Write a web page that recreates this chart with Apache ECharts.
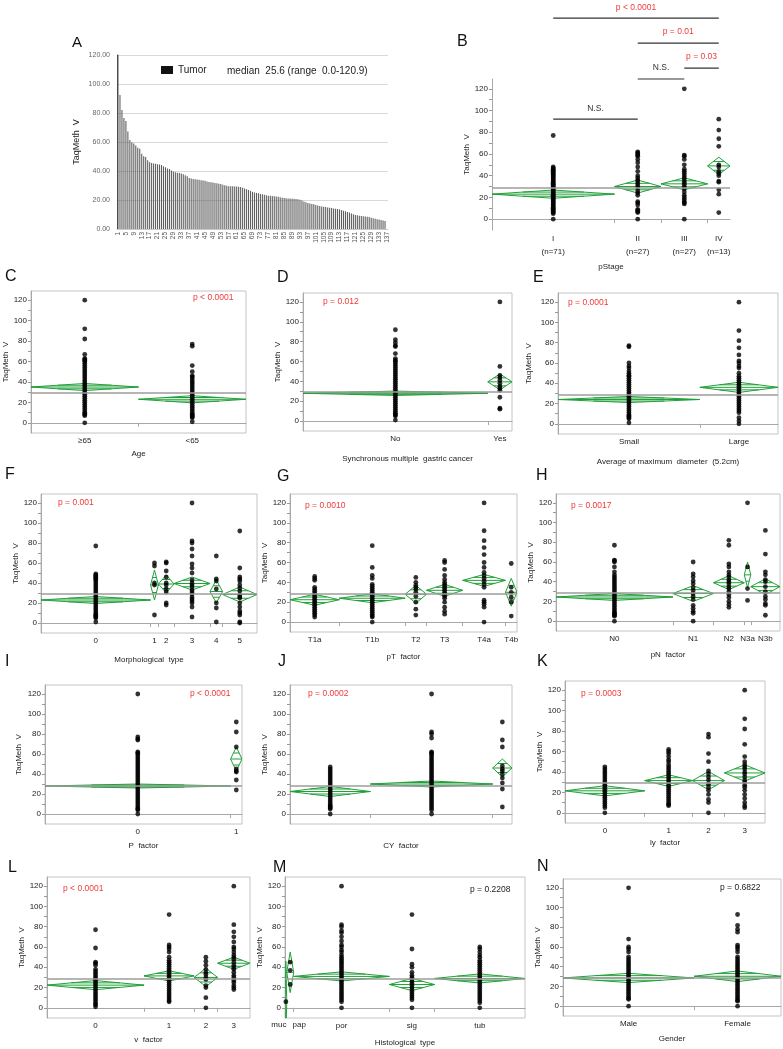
<!DOCTYPE html>
<html><head><meta charset="utf-8">
<script src="https://cdn.jsdelivr.net/npm/echarts@6/dist/echarts.min.js"></script>
<style>html,body{margin:0;padding:0;background:#fff}#c{width:783px;height:1049px}</style>
</head><body><div id="c"></div>
<script>
// ---------- Panel A data ----------
const A_values = [
 120.9, 92.5, 82.0, 76.5, 74.5, 67.2, 61.3, 59.8, 59.0, 57.6,
 56.0, 55.4, 51.9, 50.1, 49.6, 47.4, 46.0, 45.5, 45.2, 45.0,
 44.7, 44.5, 44.1, 43.2, 42.6, 41.8, 41.3, 40.4, 39.6, 39.1,
 38.8, 38.6, 38.2, 37.7, 37.0, 36.4, 35.2, 34.8, 34.5, 34.3,
 34.1, 33.9, 33.6, 33.4, 33.2, 32.8, 32.5, 32.2, 32.0, 31.8,
 31.5, 31.2, 31.0, 30.6, 30.2, 29.8, 29.5, 29.4, 29.4, 29.3,
 29.3, 29.2, 28.9, 28.5, 28.0, 27.4, 26.9, 26.3, 25.6, 25.2,
 24.9, 24.6, 24.2, 23.9, 23.6, 23.2, 23.0, 22.9, 22.8, 22.6,
 22.4, 22.2, 21.9, 21.6, 21.4, 21.2, 21.1, 21.0, 20.9, 20.8,
 20.7, 20.6, 20.2, 19.6, 18.9, 18.4, 18.0, 17.6, 17.3, 17.0,
 16.5, 16.2, 15.9, 15.5, 15.3, 15.1, 14.9, 14.7, 14.5, 14.2,
 14.0, 13.8, 13.5, 13.0, 12.6, 12.2, 11.8, 11.3, 10.7, 10.1,
 9.6, 9.4, 9.2, 9.0, 8.8, 8.6, 8.4, 8.2, 7.8, 7.4,
 7.0, 6.8, 6.5, 6.2, 5.9, 5.5, 0.0];
const A_rank = A_values.map((v, i) => String(i + 1));
const A_ticks = [0, 20, 40, 60, 80, 100, 120];
const A_series = 'Tumor';
const A_note = 'median  25.6 (range  0.0-120.9)';

const Y_ticks = [0, 20, 40, 60, 80, 100, 120];

// ---------- Panel B ----------
const B_names = ['I\n(n=71)', 'II\n(n=27)', 'III\n(n=27)', 'IV\n(n=13)'];
const B_n = [71, 27, 27, 13];
const B_mean = [23, 30, 32.5, 49];
const B_ci = [3.8, 6, 5.5, 8];
const B_grand = 29;
const B_dots = [
 [77,48,47,46,45,44,43,42,41,40,39,38,37,36,35,34,33,32,31,30,29,28,27,26,25,24,23,22,21,20,19,18,17,16,15,14,13,12,11,10,9,8,7,6,5,0],
 [62,61,60,59,58,55,52,48,44,40,38,36,35,33,31,29,26,24,22,16,15,13,9,8,7,6,0],
 [120,59,58,55,50,46,44,42,40,38,36,34,32,30,28,25,22,20,18,16,15,14,0],
 [92,82,74,67,50,48,44,42,40,35,34,27,23,6]];
const B_pairs = [[0,1],[1,2],[2,3],[1,3],[0,3]];
const B_pText = ['N.S.', 'N.S.', 'p = 0.03', 'p = 0.01', 'p < 0.0001'];

// ---------- Panel C ----------
const C_names = ['\u226565', '<65'];
const C_n = [69, 69];
const C_mean = [35, 23];
const C_ci = [3.5, 3.5];
const C_grand = 29;
const C_p = 'p < 0.0001';
const C_dots = [
 [120,92,82,67,63,62,61,60,58,56,54,52,50,48,46,44,42,40,38,36,34,32,30,28,26,24,22,20,18,16,14,12,10,9,8,7,0],
 [77,75,56,50,46,45,43,41,39,37,35,33,31,29,27,25,23,21,19,17,15,13,11,9,8,7,6,5,1]];

// ---------- Panel D ----------
const D_names = ['No', 'Yes'];
const D_n = [122, 16];
const D_mean = [28, 39.5];
const D_ci = [2.2, 8];
const D_grand = 29.5;
const D_p = 'p = 0.012';
const D_dots = [
 [92,82,79,76,75,68,63,61,60,58,56,54,52,50,48,46,44,42,40,38,36,34,32,30,28,26,24,22,20,18,16,14,12,10,8,7,6,5,1],
 [120,55,46,44,41,38,35,33,31,24,13,12]];

// ---------- Panel E ----------
const E_names = ['Small', 'Large'];
const E_n = [89, 49];
const E_mean = [24, 36];
const E_ci = [3, 5];
const E_grand = 28.5;
const E_p = 'p = 0.0001';
const E_dots = [
 [77,76,60,57,55,52,50,48,47,45,43,41,39,37,35,33,31,29,27,25,23,21,19,17,15,13,11,9,8,7,6,5,1],
 [120,92,82,75,68,62,60,57,55,50,47,45,43,41,39,37,35,33,31,29,27,25,23,21,19,17,15,13,11,6,3,0]];

// ---------- Panel F ----------
const F_names = ['0', '1', '2', '3', '4', '5'];
const F_n = [70, 5, 10, 23, 8, 22];
const F_mean = [23, 38, 39, 39.5, 31.5, 28.5];
const F_ci = [3.5, 15, 9, 6.5, 11.5, 7.5];
const F_grand = 29;
const F_p = 'p = 0.001';
const F_dots = [
 [77,49,48,47,46,45,44,43,41,39,37,35,33,31,29,27,25,23,21,19,17,15,13,11,9,8,7,6,5,1],
 [60,57,40,38,8],
 [61,60,52,46,40,38,34,31,20,18],
 [120,82,80,74,67,59,55,50,43,40,38,36,33,31,29,26,24,22,20,16,6],
 [67,44,42,34,20,15,1],
 [92,55,46,44,42,38,35,32,28,26,25,20,16,12,10,8,1,0]];

// ---------- Panel G ----------
const G_names = ['T1a', 'T1b', 'T2', 'T3', 'T4a', 'T4b'];
const G_n = [30, 40, 13, 22, 26, 7];
const G_mean = [22.5, 24, 28, 32, 42, 30];
const G_ci = [5.5, 4.5, 9, 6, 6, 14];
const G_grand = 29;
const G_p = 'p = 0.0010';
const G_dots = [
 [46,44,42,35,33,31,29,27,25,23,21,19,17,15,13,11,9,7,5],
 [77,55,47,44,38,36,34,32,30,28,26,24,22,20,18,16,14,12,10,8,6,5,0],
 [45,40,37,35,33,30,26,20,13,7],
 [62,60,53,47,43,40,38,36,34,32,30,28,26,24,20,15,11,8],
 [120,92,82,75,68,60,55,50,47,44,41,38,35,22,20,18,15,0],
 [59,35,30,25,20,6]];

// ---------- Panel H ----------
const H_names = ['N0', 'N1', 'N2', 'N3a', 'N3b'];
const H_n = [72, 25, 19, 4, 18];
const H_mean = [24.5, 28, 39, 47, 35];
const H_ci = [3.5, 8, 7, 13, 8];
const H_grand = 28.5;
const H_p = 'p = 0.0017';
const H_dots = [
 [77,62,61,60,55,50,47,45,43,41,39,37,35,33,31,29,27,25,23,21,19,17,15,13,11,9,8,7,6,5,0],
 [60,48,45,41,38,34,31,28,25,22,16,13,10,8,0],
 [82,77,58,55,50,47,45,42,40,38,35,33,30,27,24,20,17,14],
 [120,55,33,21],
 [92,68,50,47,42,40,35,30,25,22,18,16,6]];

// ---------- Panel I ----------
const I_names = ['0', '1'];
const I_n = [130, 8];
const I_mean = [28, 55];
const I_ci = [2, 12];
const I_grand = 28.5;
const I_p = 'p < 0.0001';
const I_dots = [
 [120,77,75,74,62,61,60,58,56,54,52,50,48,46,44,42,40,38,36,34,32,30,28,26,24,22,20,18,16,14,12,10,8,6,5,4,0],
 [92,82,67,45,43,42,34,24]];

// ---------- Panel J ----------
const J_names = ['', '', ''];
const J_n = [50, 76, 12];
const J_mean = [22.5, 30, 46];
const J_ci = [5, 3, 9];
const J_grand = 28.5;
const J_p = 'p = 0.0002';
const J_dots = [
 [47,45,43,41,39,37,35,33,31,29,27,25,23,21,19,17,15,13,11,9,8,7,6,5,0],
 [120,82,80,76,62,61,60,58,56,54,52,50,48,46,44,42,40,38,36,34,32,30,28,26,24,22,20,18,16,14,12,10,8,6,4,0],
 [92,74,67,48,45,43,40,36,31,25,7]];

// ---------- Panel K ----------
const K_names = ['0', '1', '2', '3'];
const K_n = [55, 33, 22, 28];
const K_mean = [21.5, 31.5, 31.5, 39];
const K_ci = [5, 5.7, 9, 8];
const K_grand = 29;
const K_p = 'p = 0.0003';
const K_dots = [
 [45,43,41,39,37,35,33,31,29,27,25,23,21,19,17,15,13,11,9,7,5,0],
 [62,60,58,55,52,50,47,45,43,41,39,37,35,33,31,29,27,25,23,21,19,17,15,13,11,9,8,7],
 [77,74,58,50,41,38,35,32,28,25,22,18,13,10,0],
 [120,92,82,67,55,50,47,45,43,40,38,35,32,30,27,25,22,18,14,10,7,5]];

// ---------- Panel L ----------
const L_names = ['0', '1', '2', '3'];
const L_n = [66, 34, 16, 22];
const L_mean = [22.4, 31.5, 30, 44];
const L_ci = [4.5, 5, 9, 6];
const L_grand = 28.5;
const L_p = 'p < 0.0001';
const L_dots = [
 [77,59,45,44,42,38,36,34,32,30,28,26,24,22,20,18,16,14,12,10,8,6,4,3,1],
 [92,62,60,58,55,50,47,45,43,41,39,37,35,33,31,29,27,25,23,21,19,17,15,13,11,9,7,6],
 [50,46,42,38,35,33,30,28,22,20,10,0],
 [120,82,75,70,65,60,58,55,52,50,48,45,42,40,38,35,32,30,27,25,22,20,18]];

// ---------- Panel M ----------
const M_names = ['muc', 'pap', 'por', 'sig', 'tub'];
const M_n = [1, 4, 55, 26, 52];
const M_mean = [6, 35, 31, 23, 29];
const M_ci = [40, 20, 4.5, 6, 4.5];
const M_grand = 29;
const M_p = 'p = 0.2208';
const M_dots = [
 [6],
 [45,37,23],
 [120,82,80,76,74,70,66,62,60,57,55,52,50,48,46,44,42,40,38,36,34,32,30,28,26,24,22,20,18,16,14,12,10,8,6,0],
 [92,58,43,40,35,32,30,28,26,24,22,20,18,16,14,12,10,8,0],
 [60,58,55,52,50,47,45,43,41,39,37,35,33,31,29,27,25,23,21,19,17,15,13,11,9,7,5,0]];

// ---------- Panel N ----------
const N_names = ['Male', 'Female'];
const N_n = [83, 55];
const N_mean = [28.6, 30.3];
const N_ci = [4.7, 5.4];
const N_grand = 29;
const N_p = 'p = 0.6822';
const N_dots = [
 [120,68,60,58,55,50,48,46,44,42,40,38,36,34,32,30,28,26,24,22,20,18,16,14,12,10,8,7,0],
 [93,82,78,75,62,60,58,55,50,48,46,44,42,40,38,36,34,32,30,28,26,24,22,20,18,16,14,12,10,8,6,5,0]];

// ---------- Layout (positions only) ----------
const FONT = '"Liberation Sans", Arial, Helvetica, sans-serif';
const RED = '#ee3b3b';
const GREEN = '#22a03a';
const LAYOUT = {
 B:{box:[492,79,238,151], boxed:false, yGap:20, xGap:33, lp:[457,42], lh:13, sigY:[92,129,139,162,185]},
 C:{box:[31,291,215,142], boxed:true, yGap:18, xGap:17, lp:[5,277], pp:[193,298]},
 D:{box:[303,293,209,138], boxed:true, yGap:16, xGap:24, lp:[277,278], pp:[323,302]},
 E:{box:[558,293,220,141], boxed:true, yGap:25, xGap:24, lp:[533,278], pp:[568,303]},
 F:{box:[41,494,216,139], boxed:true, yGap:19, xGap:23, lp:[5,475], pp:[58,503]},
 G:{box:[290,494,227,138], boxed:true, yGap:16, xGap:21, lp:[277,477], pp:[305,506]},
 H:{box:[556,494,224,137], boxed:true, yGap:15, xGap:20, lp:[536,476], pp:[571,506]},
 I:{box:[45,685,197,139], boxed:true, yGap:22, xGap:18, lp:[5,662], pp:[190,694]},
 J:{box:[290,685,222,139], boxed:true, yGap:14, xGap:18, lp:[278,662], pp:[308,694]},
 K:{box:[565,681,200,142], boxed:true, yGap:21, xGap:16, lp:[537,662], pp:[581,694]},
 L:{box:[47,877,203,141], boxed:true, yGap:21, xGap:18, lp:[8,868], pp:[63,889]},
 M:{box:[285,877,240,141], boxed:true, yGap:15, xGap:21, lp:[273,868], pp:[470,890], pColor:'#222', shift:[-7, 9, null, null, null]},
 N:{box:[563,879,218,137], boxed:true, yGap:19, xGap:19, lp:[537,867], pp:[720,888], pColor:'#222'}
};

const PANELS = [
 {k:'B', names:B_names, n:B_n, mean:B_mean, ci:B_ci, dots:B_dots, grand:B_grand, title:'pStage', p:null},
 {k:'C', names:C_names, n:C_n, mean:C_mean, ci:C_ci, dots:C_dots, grand:C_grand, title:'Age', p:C_p},
 {k:'D', names:D_names, n:D_n, mean:D_mean, ci:D_ci, dots:D_dots, grand:D_grand, title:'Synchronous multiple  gastric cancer', p:D_p},
 {k:'E', names:E_names, n:E_n, mean:E_mean, ci:E_ci, dots:E_dots, grand:E_grand, title:'Average of maximum  diameter  (5.2cm)', p:E_p},
 {k:'F', names:F_names, n:F_n, mean:F_mean, ci:F_ci, dots:F_dots, grand:F_grand, title:'Morphological  type', p:F_p},
 {k:'G', names:G_names, n:G_n, mean:G_mean, ci:G_ci, dots:G_dots, grand:G_grand, title:'pT  factor', p:G_p},
 {k:'H', names:H_names, n:H_n, mean:H_mean, ci:H_ci, dots:H_dots, grand:H_grand, title:'pN  factor', p:H_p},
 {k:'I', names:I_names, n:I_n, mean:I_mean, ci:I_ci, dots:I_dots, grand:I_grand, title:'P  factor', p:I_p},
 {k:'J', names:J_names, n:J_n, mean:J_mean, ci:J_ci, dots:J_dots, grand:J_grand, title:'CY  factor', p:J_p},
 {k:'K', names:K_names, n:K_n, mean:K_mean, ci:K_ci, dots:K_dots, grand:K_grand, title:'ly  factor', p:K_p},
 {k:'L', names:L_names, n:L_n, mean:L_mean, ci:L_ci, dots:L_dots, grand:L_grand, title:'v  factor', p:L_p},
 {k:'M', names:M_names, n:M_n, mean:M_mean, ci:M_ci, dots:M_dots, grand:M_grand, title:'Histological  type', p:M_p},
 {k:'N', names:N_names, n:N_n, mean:N_mean, ci:N_ci, dots:N_dots, grand:N_grand, title:'Gender', p:N_p}
];

// ---------- Build ----------
const chart = echarts.init(document.getElementById('c'), null, {renderer:'canvas', width:783, height:1049});
const grids = [], xAxes = [], yAxes = [], series = [], graphics = [];
const lateLabels = [];

// Panel A
grids.push({left:117, top:55, width:271, height:174, show:false});
xAxes.push({gridIndex:0, type:'category', data:A_rank,
  axisLine:{show:true, lineStyle:{color:'#c8c8c8'}}, axisTick:{show:false},
  axisLabel:{interval:3, rotate:90, fontSize:6.5, color:'#555', margin:3, fontFamily:FONT}});
yAxes.push({gridIndex:0, type:'value', min:0, max:120, interval:20,
  axisLine:{show:true, lineStyle:{color:'#333'}}, axisTick:{show:false},
  axisLabel:{customValues:A_ticks, fontSize:7, color:'#666', margin:7, fontFamily:FONT, formatter:v=>Number(v).toFixed(2)},
  splitLine:{show:true, lineStyle:{color:'#d9d9d9'}},
  name:'TaqMeth  V', nameLocation:'middle', nameGap:36, nameTextStyle:{fontSize:9, color:'#222', fontFamily:FONT}});
series.push({type:'bar', name:A_series, xAxisIndex:0, yAxisIndex:0, data:A_values,
  itemStyle:{color:'#5e5e5e'}, barWidth:'55%'});
graphics.push({type:'text', x:72, y:43, style:{text:'A', font:'15px '+FONT, fill:'#111', textVerticalAlign:'middle'}});
graphics.push({type:'text', x:227, y:71, style:{text:A_note, font:'10px '+FONT, fill:'#222', textVerticalAlign:'middle'}});

function diamondRender(params, api){
  const lo = api.value(0), hi = api.value(1), m = api.value(2), h = api.value(3);
  const c = (lo + hi) / 2, k = 0.5;
  const pL = api.coord([lo, m]), pR = api.coord([hi, m]);
  const pT = api.coord([c, m + h]), pB = api.coord([c, m - h]);
  const u1 = api.coord([lo + (c - lo) * k, m + h * k]), u2 = api.coord([hi - (hi - c) * k, m + h * k]);
  const d1 = api.coord([lo + (c - lo) * k, m - h * k]), d2 = api.coord([hi - (hi - c) * k, m - h * k]);
  const st = {stroke:GREEN, lineWidth:1, fill:null};
  return {type:'group', children:[
    {type:'polygon', shape:{points:[pL, pT, pR, pB]}, style:{stroke:GREEN, lineWidth:1, fill:'none'}},
    {type:'line', shape:{x1:pL[0], y1:pL[1], x2:pR[0], y2:pR[1]}, style:st},
    {type:'line', shape:{x1:u1[0], y1:u1[1], x2:u2[0], y2:u2[1]}, style:st},
    {type:'line', shape:{x1:d1[0], y1:d1[1], x2:d2[0], y2:d2[1]}, style:st}
  ]};
}

PANELS.forEach((P, idx) => {
  const gi = idx + 1;
  const Lo = LAYOUT[P.k];
  const total = P.n.reduce((a, b) => a + b, 0);
  const bounds = [0];
  P.n.forEach(v => bounds.push(bounds[bounds.length - 1] + v));
  const centers = P.n.map((v, i) => (bounds[i] + bounds[i + 1]) / 2);
  const [bx, by, bw, bh] = Lo.box;
  grids.push({left:bx, top:by, width:bw, height:bh, show:Lo.boxed, borderColor:'#c4c4c4', borderWidth:1});
  // labels drawn by the axis (those needing a sideways nudge are placed after layout)
  const axisCenters = centers.filter((c, i) => !(Lo.shift && Lo.shift[i] != null));
  centers.forEach((c, i) => { if (Lo.shift && Lo.shift[i] != null) lateLabels.push({gi, x:c, dx:Lo.shift[i], text:P.names[i]}); });
  xAxes.push({gridIndex:gi, type:'value', min:0, max:total,
    axisLine:{show:true, lineStyle:{color:'#a8a8a8'}},
    axisTick:{show:true, customValues:bounds.slice(1, -1), length:4, lineStyle:{color:'#a8a8a8'}},
    axisLabel:{customValues:axisCenters, fontSize:8, color:'#222', margin:Lo.lh ? 2 : 3, fontFamily:FONT,
      lineHeight:Lo.lh || 10, hideOverlap:false,
      formatter:(v) => {
        let b = 0;
        centers.forEach((c, i) => { if (Math.abs(c - v) < Math.abs(centers[b] - v)) b = i; });
        return P.names[b];
      }},
    splitLine:{show:false},
    name:P.title, nameLocation:'middle', nameGap:Lo.xGap,
    nameTextStyle:{fontSize:8, color:'#222', fontFamily:FONT}});
  yAxes.push({gridIndex:gi, type:'value', min:-10, max:129,
    axisLine:{show:true, lineStyle:{color:'#a8a8a8'}},
    axisTick:{show:true, customValues:[0,10,20,30,40,50,60,70,80,90,100,110,120], length:3, lineStyle:{color:'#999'}},
    axisLabel:{customValues:Y_ticks, fontSize:8, color:'#222', margin:4, fontFamily:FONT},
    splitLine:{show:false},
    name:'TaqMeth  V', nameLocation:'middle', nameGap:Lo.yGap,
    nameTextStyle:{fontSize:8, color:'#222', fontFamily:FONT}});
  const pts = [];
  P.dots.forEach((arr, i) => arr.forEach(v => pts.push([centers[i], v])));
  series.push({type:'custom', xAxisIndex:gi, yAxisIndex:gi, clip:true, z:3,
    data:P.mean.map((m, i) => [bounds[i], bounds[i + 1], m, P.ci[i]]),
    encode:{x:[0, 1], y:[2]}, renderItem:diamondRender});
  series.push({type:'scatter', xAxisIndex:gi, yAxisIndex:gi, data:pts, symbolSize:4.8, z:4,
    itemStyle:{color:'#000'}, silent:true,
    markLine:{silent:true, symbol:'none', label:{show:false}, animation:false,
      lineStyle:{color:'#9c9c9c', width:1.5, type:'solid'}, data:[{yAxis:P.grand}]}});
  graphics.push({type:'text', x:Lo.lp[0], y:Lo.lp[1], style:{text:P.k, font:'16px '+FONT, fill:'#111', textVerticalAlign:'middle'}});
  if (P.p) graphics.push({type:'text', x:Lo.pp[0], y:Lo.pp[1],
    style:{text:P.p, font:'8.5px '+FONT, fill:Lo.pColor || RED, textVerticalAlign:'middle'}});
  if (P.k === 'B') {
    const sig = B_pairs.map((pr, i) => [centers[pr[0]], centers[pr[1]], Lo.sigY[i], i]);
    series.push({type:'custom', xAxisIndex:gi, yAxisIndex:gi, clip:false, z:5,
      data:sig, encode:{x:[0, 1], y:[2]},
      renderItem:(params, api) => {
        const a = api.coord([api.value(0), api.value(2)]);
        const b = api.coord([api.value(1), api.value(2)]);
        const i = api.value(3);
        const txt = B_pText[i];
        return {type:'group', children:[
          {type:'line', shape:{x1:a[0], y1:a[1], x2:b[0], y2:b[1]}, style:{stroke:'#333', lineWidth:1.2}},
          {type:'text', x:(a[0] + b[0]) / 2, y:a[1] - 11,
           style:{text:txt, font:'8.5px '+FONT, fill:txt === 'N.S.' ? '#333' : RED, textAlign:'center', textVerticalAlign:'middle'}}
        ]};
      }});
  }
});

chart.setOption({
  animation:false,
  backgroundColor:'#fff',
  textStyle:{fontFamily:FONT},
  legend:{data:[{name:A_series, itemStyle:{color:'#111'}}], left:161, top:65, padding:0,
    icon:'rect', itemWidth:12, itemHeight:8, itemGap:4,
    textStyle:{fontSize:10, color:'#222', fontFamily:FONT}},
  grid:grids, xAxis:xAxes, yAxis:yAxes, series:series, graphic:graphics
});

// category labels that sit too close together: place them from the axis scale with a nudge
lateLabels.forEach(L => {
  const p = chart.convertToPixel({xAxisIndex:L.gi, yAxisIndex:L.gi}, [L.x, -10]);
  graphics.push({type:'text', x:p[0] + L.dx, y:p[1] + 7,
    style:{text:L.text, font:'8px '+FONT, fill:'#222', textAlign:'center', textVerticalAlign:'middle'}});
});
chart.setOption({graphic:graphics});
</script></body></html>
